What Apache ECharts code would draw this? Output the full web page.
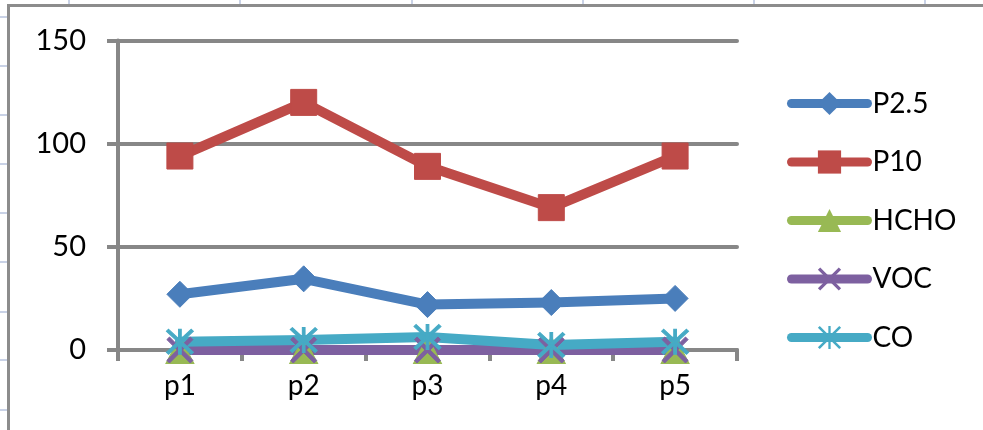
<!DOCTYPE html>
<html>
<head>
<meta charset="utf-8">
<script src="https://cdn.jsdelivr.net/npm/echarts@6/dist/echarts.min.js"></script>
<style>
html,body{margin:0;padding:0;background:#fff;}
#c{width:983px;height:430px;}
</style>
</head>
<body>
<div id="c"></div>
<script>
const categories = ['p1', 'p2', 'p3', 'p4', 'p5'];
const p25 = [27, 34.5, 22, 23, 25];
const p10 = [94, 120, 89, 69, 94];
const hcho = [0, 0, 0, 0, 0];
const voc = [0, 0, 0, 0, 0];
const co = [4, 4.8, 6.3, 2.4, 4];
const yTicks = [0, 50, 100, 150];
const seriesNames = ['P2.5', 'P10', 'HCHO', 'VOC', 'CO'];
const colors = ['#4A7EBB', '#BE4B48', '#98B954', '#7D60A0', '#46AAC5'];

const xPath = 'path://M2,0 L20,18 L18,20 L0,2 Z M18,0 L20,2 L2,20 L0,18 Z';
const starPath = 'path://M1.6,0 L20,18.4 L18.4,20 L0,1.6 Z M18.4,0 L20,1.6 L1.6,20 L0,18.4 Z M9,0 L11,0 L11,20 L9,20 Z';
const symbols = ['diamond', 'rect', 'triangle', xPath, starPath];
const symbolSizes = [[26, 26], [26, 26], [28, 27], [26, 26], [27, 25]];
const dataSets = [p25, p10, hcho, voc, co];

const chart = echarts.init(document.getElementById('c'), null, {renderer: 'canvas'});

const FONT = 'Lato';
const graphics = [];
// spreadsheet cell lines behind chart
[69, 240, 412, 583, 754, 925].forEach(x => {
  graphics.push({type: 'line', shape: {x1: x, y1: 0, x2: x, y2: 5}, style: {stroke: '#C9D2E6', lineWidth: 2}, z: -1});
});
[17, 66, 115, 164, 213, 262, 312, 360, 410].forEach(y => {
  graphics.push({type: 'line', shape: {x1: 0, y1: y, x2: 7, y2: y}, style: {stroke: '#C9D2E6', lineWidth: 2}, z: -1});
});
graphics.push({type: 'polyline', shape: {points: [[8.5, 430], [8.5, 5.5], [983, 5.5]]}, style: {stroke: '#8C8C8C', lineWidth: 3, fill: null}, z: -1});

chart.setOption({
  backgroundColor: '#ffffff',
  animation: false,
  graphic: graphics,
  grid: {left: 118, right: 246, top: 40.5, bottom: 80, containLabel: false},
  legend: {
    orient: 'vertical',
    left: 782,
    top: 84.5,
    itemWidth: 76,
    itemHeight: 29,
    itemGap: 30.5,
    lineStyle: {width: 9, cap: 'round'},
    textStyle: {fontFamily: FONT, fontSize: 28, color: '#000'},
    data: seriesNames
  },
  xAxis: {
    type: 'category',
    data: categories,
    boundaryGap: true,
    axisLine: {show: true, lineStyle: {color: '#878787', width: 4}},
    axisTick: {show: true, length: 11, lineStyle: {color: '#878787', width: 4}},
    axisLabel: {fontFamily: FONT, fontSize: 28, color: '#000', margin: 22},
    splitLine: {show: false}
  },
  yAxis: {
    type: 'value',
    min: yTicks[0],
    max: yTicks[yTicks.length - 1],
    interval: 50,
    axisLine: {show: true, lineStyle: {color: '#878787', width: 4}},
    axisTick: {show: true, length: 11, lineStyle: {color: '#878787', width: 4}},
    axisLabel: {fontFamily: FONT, fontSize: 29, color: '#000', margin: 32},
    splitLine: {show: true, lineStyle: {color: '#878787', width: 4, cap: 'round'}}
  },
  series: seriesNames.map((name, i) => ({
    name: name,
    type: 'line',
    data: dataSets[i],
    symbol: symbols[i],
    symbolSize: symbolSizes[i],
    showAllSymbol: true,
    color: colors[i],
    lineStyle: {width: 10, color: colors[i], cap: 'round', join: 'round'},
    itemStyle: {color: colors[i], borderColor: colors[i]},
    emphasis: {disabled: true}
  }))
});
</script>
</body>
</html>
